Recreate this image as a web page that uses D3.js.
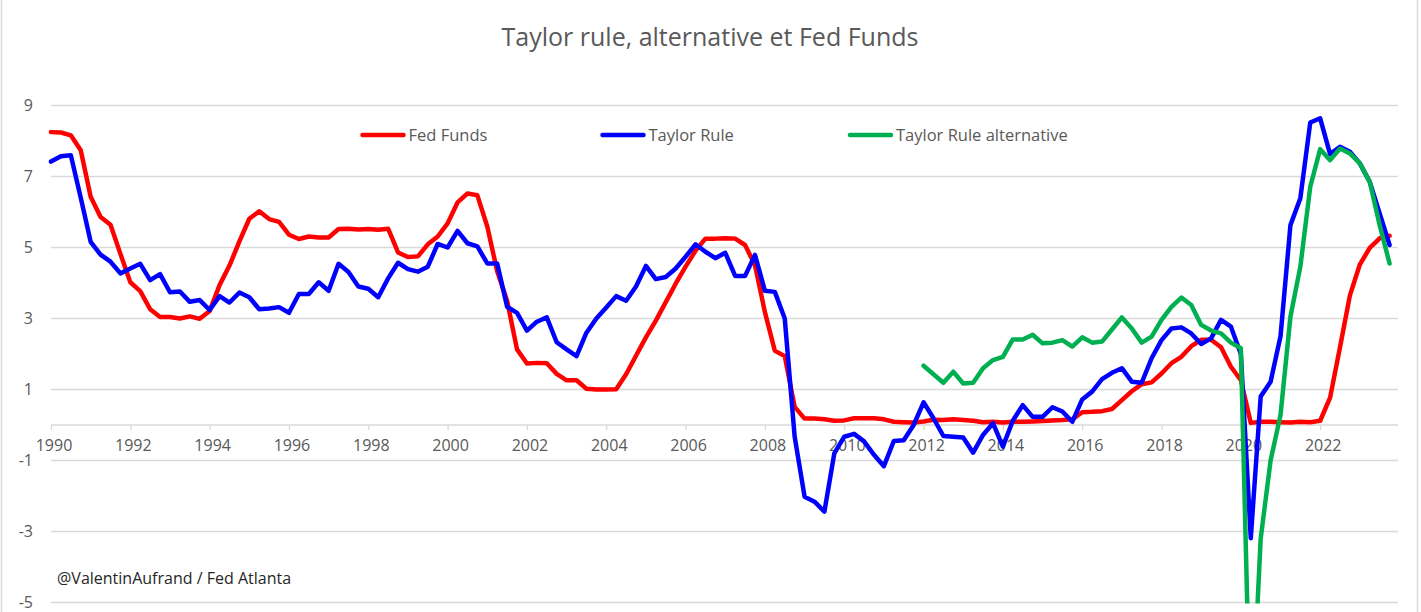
<!DOCTYPE html>
<html>
<head>
<meta charset="utf-8">
<script src="https://cdn.jsdelivr.net/npm/d3@7"></script>
<style>
  html, body { margin: 0; padding: 0; background: #ffffff; }
  svg { display: block; font-family: "Open Sans", "Noto Sans", sans-serif; }
</style>
</head>
<body>
<svg id="chart" width="1421" height="612"></svg>
<script>
// ---------- DATA ----------
const startYear = 1990;
const endYear = 2024;
const yearTicks = [1990, 1992, 1994, 1996, 1998, 2000, 2002, 2004, 2006, 2008, 2010, 2012, 2014, 2016, 2018, 2020, 2022];
const yTicks = [-5, -3, -1, 1, 3, 5, 7, 9];

// quarterly values, 1990Q1 .. 2023Q4
const fedFunds = [
  8.25, 8.24, 8.16, 7.74,  6.43, 5.86, 5.64, 4.82,  4.02, 3.77, 3.26, 3.04,  3.04, 3.00, 3.06, 2.99,
  3.21, 3.94, 4.49, 5.17,  5.81, 6.02, 5.80, 5.72,  5.36, 5.24, 5.31, 5.28,  5.28, 5.52, 5.53, 5.51,
  5.52, 5.50, 5.53, 4.86,  4.73, 4.75, 5.09, 5.31,  5.68, 6.27, 6.52, 6.47,  5.59, 4.33, 3.50, 2.13,
  1.73, 1.75, 1.74, 1.44,  1.26, 1.26, 1.02, 1.00,  1.00, 1.01, 1.43, 1.95,  2.47, 2.94, 3.46, 3.98,
  4.46, 4.91, 5.25, 5.25,  5.26, 5.25, 5.07, 4.50,  3.18, 2.09, 1.94, 0.51,  0.18, 0.18, 0.16, 0.12,
  0.13, 0.19, 0.19, 0.19,  0.16, 0.09, 0.08, 0.07,  0.10, 0.15, 0.14, 0.16,  0.14, 0.12, 0.08, 0.09,
  0.07, 0.09, 0.09, 0.10,  0.11, 0.13, 0.14, 0.16,  0.36, 0.37, 0.39, 0.45,  0.70, 0.95, 1.15, 1.20,
  1.45, 1.74, 1.92, 2.22,  2.40, 2.40, 2.19, 1.64,  1.26, 0.06, 0.09, 0.09,  0.08, 0.07, 0.09, 0.08,
  0.12, 0.77, 2.19, 3.65,  4.52, 4.99, 5.26, 5.33
];

const taylorRule = [
  7.42, 7.57, 7.60, 6.40,  5.16, 4.80, 4.60, 4.27,  4.41, 4.54, 4.08, 4.25,  3.74, 3.76, 3.47, 3.52,
  3.24, 3.63, 3.45, 3.73,  3.60, 3.26, 3.28, 3.32,  3.16, 3.69, 3.69, 4.02,  3.78, 4.54, 4.31, 3.90,
  3.84, 3.60, 4.13, 4.57,  4.39, 4.32, 4.46, 5.10,  5.00, 5.47, 5.12, 5.03,  4.55, 4.55, 3.33, 3.16,
  2.66, 2.91, 3.03, 2.33,  2.13, 1.94, 2.60, 3.00,  3.31, 3.63, 3.50, 3.90,  4.48, 4.11, 4.17, 4.41,
  4.74, 5.09, 4.88, 4.70,  4.85, 4.20, 4.20, 4.79,  3.78, 3.75, 3.00, -0.33, -2.02, -2.16, -2.44, -0.80,
  -0.33, -0.25, -0.46, -0.84, -1.16, -0.45, -0.43, 0.00, 0.64, 0.19, -0.31, -0.33, -0.35, -0.78, -0.28, 0.05,
  -0.61, 0.12, 0.56, 0.23,  0.23, 0.50, 0.38, 0.09,  0.72, 0.94, 1.29, 1.47,  1.60, 1.22, 1.19, 1.88,
  2.39, 2.72, 2.75, 2.58,  2.28, 2.44, 2.96, 2.77,  2.00, -3.19, 0.80, 1.22,  2.50, 5.63, 6.39, 8.52,
  8.64, 7.63, 7.84, 7.70,  7.37, 6.85, 5.96, 5.07
];

// alternative rule starts 2012Q1
const altStartYear = 2012;
const taylorAlt = [
  1.67, 1.43, 1.19, 1.50,  1.17, 1.19, 1.60, 1.83,  1.92, 2.41, 2.41, 2.54,  2.30, 2.32, 2.39, 2.21,
  2.47, 2.32, 2.35, 2.69,  3.03, 2.72, 2.32, 2.49,  2.96, 3.33, 3.59, 3.38,  2.82, 2.66, 2.58, 2.32,
  2.16, -9.00, -3.20, -1.00, 0.28, 3.05, 4.46, 6.71, 7.77, 7.46, 7.79, 7.65,  7.37, 6.85, 5.63, 4.55
];

const seriesNames = ["Fed Funds", "Taylor Rule", "Taylor Rule alternative"];
const seriesColors = ["#ff0000", "#0000ff", "#00b050"];
const titleText = "Taylor rule, alternative et Fed Funds";
const sourceText = "@ValentinAufrand / Fed Atlanta";

// ---------- BUILD ----------
const toPoints = (vals, y0) => vals.map((v, i) => ({ t: y0 + i / 4, v }));
const series = [
  toPoints(fedFunds, startYear),
  toPoints(taylorRule, startYear),
  toPoints(taylorAlt, altStartYear)
];

const svg = d3.select("#chart");
const W = 1421, H = 612;
const plot = { left: 51, right: 1398, top: 105.5, bottom: 602.5 };

svg.append("rect").attr("width", W).attr("height", H).attr("fill", "#ffffff");

// chart frame sides
svg.append("line").attr("x1", 1.5).attr("x2", 1.5).attr("y1", 0).attr("y2", H)
  .attr("stroke", "#d9d9d9").attr("stroke-width", 1.5);
svg.append("line").attr("x1", 1417.5).attr("x2", 1417.5).attr("y1", 0).attr("y2", H)
  .attr("stroke", "#d9d9d9").attr("stroke-width", 1.5);

const x = d3.scaleLinear().domain([startYear, endYear]).range([plot.left, 1399.5]);
const y = d3.scaleLinear().domain([-5, 9]).range([plot.bottom, plot.top]);

// gridlines
svg.append("g").selectAll("line").data(yTicks).join("line")
  .attr("x1", plot.left).attr("x2", plot.right)
  .attr("y1", d => y(d)).attr("y2", d => y(d))
  .attr("stroke", "#d9d9d9").attr("stroke-width", 1.3);

// y labels
svg.append("g").selectAll("text").data(yTicks).join("text")
  .attr("x", 33).attr("y", d => y(d)).attr("dy", "0.35em")
  .attr("text-anchor", "end").attr("fill", "#595959")
  .attr("font-size", 16).text(d => d);

// x axis at zero
const xAxis = d3.axisBottom(x).tickValues(yearTicks).tickSize(5).tickFormat(d3.format("d"));
const gx = svg.append("g").attr("transform", `translate(0,${y(0)})`).call(xAxis);
gx.select(".domain").attr("stroke", "#d9d9d9").attr("stroke-width", 1.3)
  .attr("d", `M${plot.left},0H${plot.right}`);
gx.selectAll(".tick line").attr("stroke", "#d9d9d9").attr("stroke-width", 1.3);
gx.selectAll(".tick text").attr("fill", "#595959").attr("font-size", 16)
  .attr("font-family", "'Open Sans', sans-serif")
  .attr("y", 15).attr("dx", 2.5);

// clip for plot area
svg.append("clipPath").attr("id", "clip").append("rect")
  .attr("x", 0).attr("y", plot.top - 10).attr("width", W).attr("height", plot.bottom - plot.top + 11);

const line = d3.line().x(d => x(d.t)).y(d => y(d.v));
const gLines = svg.append("g").attr("clip-path", "url(#clip)");
series.forEach((s, i) => {
  gLines.append("path").datum(s)
    .attr("d", line)
    .attr("fill", "none")
    .attr("stroke", seriesColors[i])
    .attr("stroke-width", 4.5)
    .attr("stroke-linejoin", "round")
    .attr("stroke-linecap", "round");
});

// legend
const legendX = [362.5, 602.5, 850];
const legendY = 135;
const lg = svg.append("g");
seriesNames.forEach((name, i) => {
  lg.append("line").attr("x1", legendX[i]).attr("x2", legendX[i] + 41)
    .attr("y1", legendY).attr("y2", legendY)
    .attr("stroke", seriesColors[i]).attr("stroke-width", 4.5).attr("stroke-linecap", "round");
  lg.append("text").attr("x", legendX[i] + 46).attr("y", legendY).attr("dy", "0.35em")
    .attr("fill", "#595959").attr("font-size", 16.5).text(name);
});

// title
svg.append("text").attr("x", 710).attr("y", 46).attr("text-anchor", "middle")
  .attr("fill", "#595959").attr("font-size", 25).text(titleText);

// source
svg.append("text").attr("x", 57).attr("y", 578).attr("dy", "0.35em")
  .attr("fill", "#262626").attr("font-size", 16).text(sourceText);
</script>
</body>
</html>
